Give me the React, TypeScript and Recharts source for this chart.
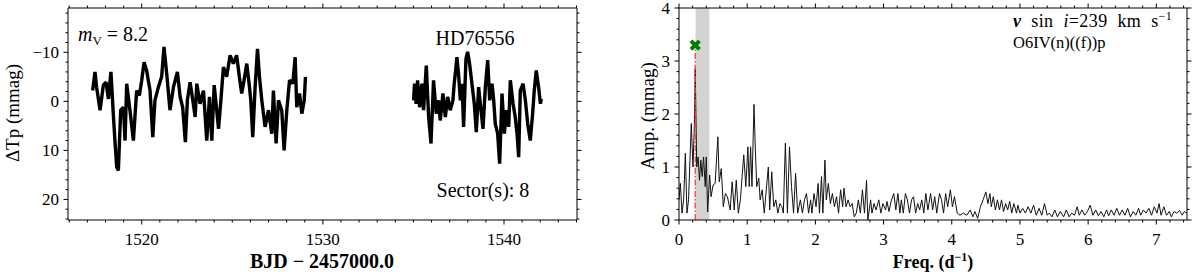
import React from 'react';
import { ComposedChart, Line, Scatter, XAxis, YAxis, ReferenceArea, ReferenceLine } from 'recharts';

// ---------- Light curve (BJD - 2457000, ΔTp mmag) ----------
const lcSegment1: [number, number][] = [
  [1517.29, -2.2], [1517.42, -6.0], [1517.51, -2.9], [1517.70, 1.8], [1517.88, -3.3], [1518.03, -3.9],
  [1518.16, -0.5], [1518.30, -6.0], [1518.43, 2.5], [1518.52, 8.0], [1518.62, 13.4], [1518.71, 14.1],
  [1518.84, 1.8], [1518.99, 1.2], [1519.08, 8.0], [1519.17, -3.6], [1519.35, 1.8], [1519.54, 8.0],
  [1519.72, -2.2], [1519.87, -1.2], [1520.00, -4.3], [1520.13, -8.0], [1520.27, -6.3], [1520.46, -2.2],
  [1520.61, 7.3], [1520.73, -0.2], [1520.92, -2.9], [1521.10, -5.0], [1521.23, -11.1], [1521.38, -5.6],
  [1521.56, 1.8], [1521.75, -2.9], [1521.97, -6.0], [1522.12, -0.9], [1522.26, 1.2], [1522.41, 8.3],
  [1522.52, -0.2], [1522.67, -3.9], [1522.82, -0.2], [1522.95, 3.2], [1523.04, -3.6], [1523.22, 0.5],
  [1523.41, -2.2], [1523.59, 8.0], [1523.74, -0.9], [1523.87, 8.0], [1524.00, -3.3], [1524.14, 1.8],
  [1524.24, 5.6], [1524.37, -0.2], [1524.51, -7.0], [1524.69, -5.0], [1524.88, -9.4], [1525.06, -7.7],
  [1525.24, -9.4], [1525.39, -5.0], [1525.52, -1.6], [1525.65, -4.3], [1525.80, -7.7], [1525.95, -2.9],
  [1526.02, -0.2], [1526.13, 7.3], [1526.26, -2.9], [1526.39, -10.7], [1526.50, -5.0], [1526.63, -0.2],
  [1526.81, 5.2], [1527.00, 1.8], [1527.18, 6.6], [1527.27, -2.2], [1527.42, 8.6], [1527.55, -0.2],
  [1527.73, 1.8], [1527.86, 10.0], [1528.01, 1.8], [1528.16, -4.3], [1528.34, -3.6], [1528.47, -9.0],
  [1528.56, 1.2], [1528.71, -1.6], [1528.84, 2.5], [1528.97, -0.2], [1529.04, -5.0],
];
const lcSegment2: [number, number][] = [
  [1535.01, -0.2], [1535.06, -3.6], [1535.15, 0.5], [1535.23, -4.3], [1535.34, 1.2], [1535.47, -3.6],
  [1535.56, 1.8], [1535.71, -7.3], [1535.84, 3.2], [1535.97, 8.6], [1536.11, -4.3], [1536.26, 2.5],
  [1536.39, -0.2], [1536.48, 3.9], [1536.63, -1.6], [1536.76, 3.2], [1536.89, -0.9], [1537.03, 1.8],
  [1537.18, -0.2], [1537.25, -3.6], [1537.33, -6.3], [1537.40, -9.0], [1537.49, -5.6], [1537.59, -0.2],
  [1537.68, -3.6], [1537.77, 5.2], [1537.90, -8.7], [1537.99, -10.1], [1538.10, -7.7], [1538.23, -3.6],
  [1538.36, 0.5], [1538.47, 6.3], [1538.60, -2.9], [1538.73, 1.8], [1538.84, 5.6], [1538.97, -2.9],
  [1539.10, -8.4], [1539.21, -0.2], [1539.34, -3.6], [1539.43, -0.2], [1539.52, 4.6], [1539.65, 6.6],
  [1539.76, 12.7], [1539.89, -1.6], [1540.02, 6.6], [1540.13, 1.8], [1540.26, 5.2], [1540.35, -4.3],
  [1540.50, 0.5], [1540.62, 3.2], [1540.72, 6.6], [1540.81, 11.4], [1540.90, -2.2], [1541.05, -3.6],
  [1541.18, -0.2], [1541.31, 4.6], [1541.45, 8.0], [1541.58, 2.5], [1541.67, -2.2], [1541.78, -6.3],
  [1541.91, -2.9], [1542.01, 0.5], [1542.06, -0.5],
];

// ---------- Periodogram (freq d^-1, amp mmag) ----------
const periodogram: [number, number][] = [
  [0, 0.38], [0.02, 0.69], [0.044, 0.13], [0.068, 0.38], [0.093, 1.26], [0.117, 0.13], [0.14, 0.38],
  [0.18, 1.82], [0.205, 1.0], [0.225, 1.76], [0.238, 2.86], [0.26, 1.0], [0.28, 1.19], [0.30, 0.75],
  [0.32, 1.13], [0.34, 0.82], [0.36, 1.19], [0.385, 0.63], [0.40, 1.19], [0.42, 0.15], [0.45, 0.85],
  [0.47, 0.44], [0.50, 0.66], [0.53, 0.69], [0.57, 1.57], [0.59, 0.72], [0.62, 0.97], [0.65, 0.25],
  [0.68, 0.5], [0.71, 0.44], [0.75, 0.19], [0.78, 0.72], [0.81, 0.19], [0.84, 0.75], [0.87, 0.13],
  [0.90, 0.38], [0.95, 1.23], [0.98, 0.63], [1.01, 1.38], [1.03, 0.63], [1.05, 1.38], [1.07, 0.63],
  [1.10, 2.18], [1.12, 1.32], [1.14, 0.63], [1.17, 0.79], [1.19, 0.38], [1.22, 0.57], [1.25, 0.13],
  [1.28, 0.57], [1.31, 1.0], [1.33, 0.19], [1.36, 0.91], [1.39, 0.25], [1.42, 0.38], [1.45, 0.13],
  [1.48, 0.31], [1.51, 0.25], [1.53, 0.13], [1.56, 1.45], [1.59, 0.13], [1.62, 1.38], [1.65, 0.63],
  [1.68, 0.13], [1.71, 0.88], [1.74, 0.13], [1.78, 0.38], [1.81, 0.13], [1.84, 0.38], [1.87, 0.5],
  [1.90, 0.13], [1.93, 0.38], [1.95, 0.13], [1.98, 0.5], [2.01, 0.25], [2.04, 0.69], [2.06, 0.13],
  [2.09, 0.82], [2.11, 0.13], [2.14, 1.13], [2.16, 0.38], [2.19, 0.69], [2.22, 0.31], [2.25, 0.5],
  [2.28, 0.25], [2.31, 0.44], [2.34, 0.13], [2.37, 0.57], [2.40, 0.25], [2.42, 0.6], [2.45, 0.25],
  [2.48, 0.38], [2.51, 0.25], [2.54, 0.31], [2.57, 0.06], [2.60, 0.13], [2.63, 0.38], [2.66, 0.13],
  [2.69, 0.57], [2.72, 0.13], [2.75, 0.75], [2.77, 0.0], [2.81, 0.38], [2.83, 0.13], [2.86, 0.31],
  [2.89, 0.19], [2.93, 0.38], [2.96, 0.13], [2.99, 0.31], [3.03, 0.19], [3.05, 0.35], [3.08, 0.16],
  [3.11, 0.35], [3.15, 0.5], [3.18, 0.19], [3.21, 0.5], [3.24, 0.13], [3.26, 0.38], [3.29, 0.13],
  [3.32, 0.5], [3.35, 0.38], [3.38, 0.13], [3.41, 0.38], [3.44, 0.44], [3.47, 0.13], [3.50, 0.31],
  [3.53, 0.19], [3.56, 0.38], [3.59, 0.13], [3.62, 0.5], [3.65, 0.19], [3.69, 0.5], [3.72, 0.19],
  [3.75, 0.44], [3.78, 0.13], [3.82, 0.5], [3.85, 0.38], [3.88, 0.13], [3.91, 0.5], [3.94, 0.25],
  [3.98, 0.57], [4.01, 0.25], [4.04, 0.44], [4.08, 0.13], [4.12, 0.09], [4.17, 0.13], [4.22, 0.09],
  [4.27, 0.19], [4.31, 0.06], [4.34, 0.16], [4.38, 0.03], [4.42, 0.25], [4.46, 0.38], [4.50, 0.53],
  [4.53, 0.31], [4.56, 0.5], [4.58, 0.25], [4.61, 0.44], [4.64, 0.19], [4.67, 0.38], [4.70, 0.19],
  [4.73, 0.38], [4.76, 0.16], [4.79, 0.31], [4.82, 0.19], [4.85, 0.35], [4.88, 0.13], [4.91, 0.31],
  [4.95, 0.13], [4.97, 0.28], [5.00, 0.13], [5.04, 0.22], [5.08, 0.13], [5.12, 0.25], [5.16, 0.13],
  [5.20, 0.28], [5.24, 0.09], [5.28, 0.22], [5.32, 0.09], [5.36, 0.31], [5.40, 0.09], [5.43, 0.13],
  [5.47, 0.06], [5.51, 0.19], [5.55, 0.06], [5.59, 0.16], [5.64, 0.06], [5.68, 0.19], [5.72, 0.06],
  [5.76, 0.13], [5.80, 0.09], [5.84, 0.25], [5.87, 0.09], [5.91, 0.19], [5.95, 0.09], [5.99, 0.16],
  [6.03, 0.28], [6.07, 0.09], [6.11, 0.19], [6.15, 0.08], [6.19, 0.16], [6.23, 0.06], [6.27, 0.19],
  [6.30, 0.08], [6.34, 0.19], [6.38, 0.09], [6.42, 0.22], [6.46, 0.09], [6.50, 0.19], [6.54, 0.09],
  [6.58, 0.22], [6.62, 0.06], [6.66, 0.16], [6.70, 0.09], [6.74, 0.22], [6.77, 0.09], [6.81, 0.19],
  [6.85, 0.13], [6.89, 0.22], [6.93, 0.09], [6.97, 0.25], [7.01, 0.13], [7.04, 0.31], [7.07, 0.09],
  [7.11, 0.25], [7.15, 0.09], [7.19, 0.16], [7.22, 0.06], [7.26, 0.16], [7.30, 0.13], [7.34, 0.18],
  [7.38, 0.09], [7.41, 0.16], [7.45, 0.13],
];

// dominant frequency marker
const peakFreq = [0.238];
const peakAmp = [3.3];
// shaded frequency band
const bandFreq = [0.243, 0.445];

// ---------- Ticks ----------
const lcXMajor = [1520, 1530, 1540];
const lcYMajor = [-10, 0, 10, 20];
const pgXMajor = [0, 1, 2, 3, 4, 5, 6, 7];
const pgYMajor = [0, 1, 2, 3, 4];

function steps(start: number, stop: number, step: number): number[] {
  const out: number[] = [];
  const n = Math.round((stop - start) / step);
  for (let i = 0; i <= n; i++) out.push(Math.round((start + i * step) * 1000) / 1000);
  return out;
}
const lcXTicks = steps(1516, 1544, 1);
const lcYTicks = steps(-18, 24, 2);
const pgXTicks = steps(0, 7.4, 0.2);
const pgYTicks = steps(0, 4, 0.2);

const FONT = '"Liberation Serif", "Times New Roman", serif';

type Box = { left: number; top: number; right: number; bottom: number };
const LBOX: Box = { left: 68, top: 8, right: 577, bottom: 220 };
const RBOX: Box = { left: 79, top: 8, right: 587, bottom: 220 };
const CW = 600;
const CH = 279;
const AX = 1; // axis thickness reserved by recharts

function fmt(v: number): string {
  const r = Math.round(v * 1000) / 1000;
  return r < 0 ? '\u2212' + Math.abs(r) : String(r);
}

function tickRenderer(side: 'bottom' | 'top' | 'left' | 'right', box: Box, majors: number[]) {
  return (props: any) => {
    const { x, y, payload } = props;
    const v = payload.value as number;
    const major = majors.some((m) => Math.abs(m - v) < 1e-6);
    const len = major ? 4.5 : 2.5;
    const s = { stroke: '#000', strokeWidth: 1 };
    if (side === 'bottom') {
      return (
        <g>
          <line x1={x} x2={x} y1={box.bottom} y2={box.bottom + len} {...s} />
          {major && (
            <text x={x} y={box.bottom + 25} textAnchor="middle" fontFamily={FONT} fontSize={17} fill="#000">
              {fmt(v)}
            </text>
          )}
        </g>
      );
    }
    if (side === 'top') {
      return <line x1={x} x2={x} y1={box.top} y2={box.top - len} {...s} />;
    }
    if (side === 'left') {
      return (
        <g>
          <line x1={box.left} x2={box.left - len} y1={y} y2={y} {...s} />
          {major && (
            <text x={box.left - 9} y={y} dy="0.33em" textAnchor="end" fontFamily={FONT} fontSize={17} fill="#000">
              {fmt(v)}
            </text>
          )}
        </g>
      );
    }
    return <line x1={box.right} x2={box.right + len} y1={y} y2={y} {...s} />;
  };
}

const lcData = [
  ...lcSegment1.map(([t, m]) => ({ t, m })),
  { t: 1532, m: null as number | null },
  ...lcSegment2.map(([t, m]) => ({ t, m })),
];
const pgData = periodogram.map(([f, a]) => ({ f, a }));
const peakData = peakFreq.map((f, i) => ({ f, a: peakAmp[i] }));

const XMarker = (props: any) => {
  const { cx, cy } = props;
  return (
    <g transform={`translate(${cx},${cy}) rotate(45)`} fill="#008000">
      <rect x={-6} y={-2} width={12} height={4} />
      <rect x={-2} y={-6} width={4} height={12} />
    </g>
  );
};

const axisLine = { stroke: '#000', strokeWidth: 1 };

function margins(box: Box) {
  return { top: box.top - AX, left: box.left - AX, right: CW - box.right - AX, bottom: CH - box.bottom - AX };
}

function LightCurve() {
  const dom: [number, number] = [1515.93, 1544.03];
  const ydom: [number, number] = [-19.04, 24.2];
  return (
    <ComposedChart width={CW} height={CH} data={lcData} margin={margins(LBOX)}>
      <XAxis xAxisId="b" dataKey="t" type="number" domain={dom} allowDataOverflow ticks={lcXTicks} interval={0}
        height={AX} axisLine={axisLine} tickLine={false} tick={tickRenderer('bottom', LBOX, lcXMajor)} />
      <XAxis xAxisId="t" orientation="top" dataKey="t" type="number" domain={dom} allowDataOverflow ticks={lcXTicks} interval={0}
        height={AX} axisLine={axisLine} tickLine={false} tick={tickRenderer('top', LBOX, lcXMajor)} />
      <YAxis yAxisId="l" type="number" domain={ydom} reversed allowDataOverflow ticks={lcYTicks} interval={0}
        width={AX} axisLine={axisLine} tickLine={false} tick={tickRenderer('left', LBOX, lcYMajor)} />
      <YAxis yAxisId="r" orientation="right" type="number" domain={ydom} reversed allowDataOverflow ticks={lcYTicks} interval={0}
        width={AX} axisLine={axisLine} tickLine={false} tick={tickRenderer('right', LBOX, lcYMajor)} />
      <Line xAxisId="b" yAxisId="l" dataKey="m" type="linear" stroke="#000" strokeWidth={3.4} dot={false}
        connectNulls={false} isAnimationActive={false} strokeLinejoin="bevel" />
    </ComposedChart>
  );
}

function Periodogram() {
  const dom: [number, number] = [0, 7.45];
  const ydom: [number, number] = [0, 4];
  return (
    <ComposedChart width={CW} height={CH} data={pgData} margin={margins(RBOX)}>
      <XAxis xAxisId="b" dataKey="f" type="number" domain={dom} allowDataOverflow ticks={pgXTicks} interval={0}
        height={AX} axisLine={axisLine} tickLine={false} tick={tickRenderer('bottom', RBOX, pgXMajor)} />
      <XAxis xAxisId="t" orientation="top" dataKey="f" type="number" domain={dom} allowDataOverflow ticks={pgXTicks} interval={0}
        height={AX} axisLine={axisLine} tickLine={false} tick={tickRenderer('top', RBOX, pgXMajor)} />
      <YAxis yAxisId="l" type="number" domain={ydom} allowDataOverflow ticks={pgYTicks} interval={0}
        width={AX} axisLine={axisLine} tickLine={false} tick={tickRenderer('left', RBOX, pgYMajor)} />
      <YAxis yAxisId="r" orientation="right" type="number" domain={ydom} allowDataOverflow ticks={pgYTicks} interval={0}
        width={AX} axisLine={axisLine} tickLine={false} tick={tickRenderer('right', RBOX, pgYMajor)} />
      <ReferenceArea xAxisId="b" yAxisId="l" x1={bandFreq[0]} x2={bandFreq[1]} y1={0} y2={4} fill="#d3d3d3" fillOpacity={1} stroke="none" />
      <Line xAxisId="b" yAxisId="l" dataKey="a" type="linear" stroke="#111" strokeWidth={1} dot={false} isAnimationActive={false} />
      <ReferenceLine xAxisId="b" yAxisId="l" segment={[{ x: peakFreq[0], y: 0 }, { x: peakFreq[0], y: peakAmp[0] }]}
        stroke="#ff3b3b" strokeWidth={1.3} strokeDasharray="6 2 1.5 2" />
      <Scatter xAxisId="b" yAxisId="l" data={peakData} dataKey="a" shape={<XMarker />} isAnimationActive={false} />
    </ComposedChart>
  );
}

export default function App() {
  const t = { fontFamily: FONT, fill: '#000' };
  return (
    <div style={{ position: 'absolute', left: 0, top: 0, width: 1200, height: 279, background: '#fff', overflow: 'hidden' }}>
      <div style={{ position: 'absolute', left: 0, top: 0 }}>
        <LightCurve />
      </div>
      <div style={{ position: 'absolute', left: 600, top: 0 }}>
        <Periodogram />
      </div>
      <svg width={1200} height={279} style={{ position: 'absolute', left: 0, top: 0, pointerEvents: 'none' }}>
        {/* left panel annotations */}
        <text x={78} y={41} fontSize={20} {...t}>
          <tspan fontStyle="italic">m</tspan>
          <tspan fontSize={13} dy={4}>V</tspan>
          <tspan dy={-4}> = 8.2</tspan>
        </text>
        <text x={475} y={45} fontSize={20} textAnchor="middle" {...t}>HD76556</text>
        <text x={483} y={197} fontSize={20} textAnchor="middle" {...t}>Sector(s): 8</text>
        <text x={0} y={0} fontSize={19} textAnchor="middle" transform="translate(19,113) rotate(-90)" {...t}>ΔTp (mmag)</text>
        <text x={322} y={268} fontSize={20} fontWeight="bold" textAnchor="middle" {...t}>BJD − 2457000.0</text>
        {/* right panel annotations */}
        <text x={1013} y={27} fontSize={18} wordSpacing={5} letterSpacing={0.4} {...t}>
          <tspan fontStyle="italic" fontWeight="bold">v</tspan>
          <tspan> sin </tspan>
          <tspan fontStyle="italic">i</tspan>
          <tspan>=239 km s</tspan>
          <tspan fontSize={12} dy={-7}>−1</tspan>
        </text>
        <text x={1013} y={48} fontSize={16.5} {...t}>O6IV(n)((f))p</text>
        <text x={0} y={0} fontSize={19} textAnchor="middle" transform="translate(654,116) rotate(-90)" {...t}>Amp. (mmag)</text>
        <text x={933} y={268} fontSize={18} fontWeight="bold" textAnchor="middle" {...t}>
          <tspan>Freq. (d</tspan>
          <tspan fontSize={12} dy={-7}>−1</tspan>
          <tspan dy={7}>)</tspan>
        </text>
      </svg>
    </div>
  );
}
